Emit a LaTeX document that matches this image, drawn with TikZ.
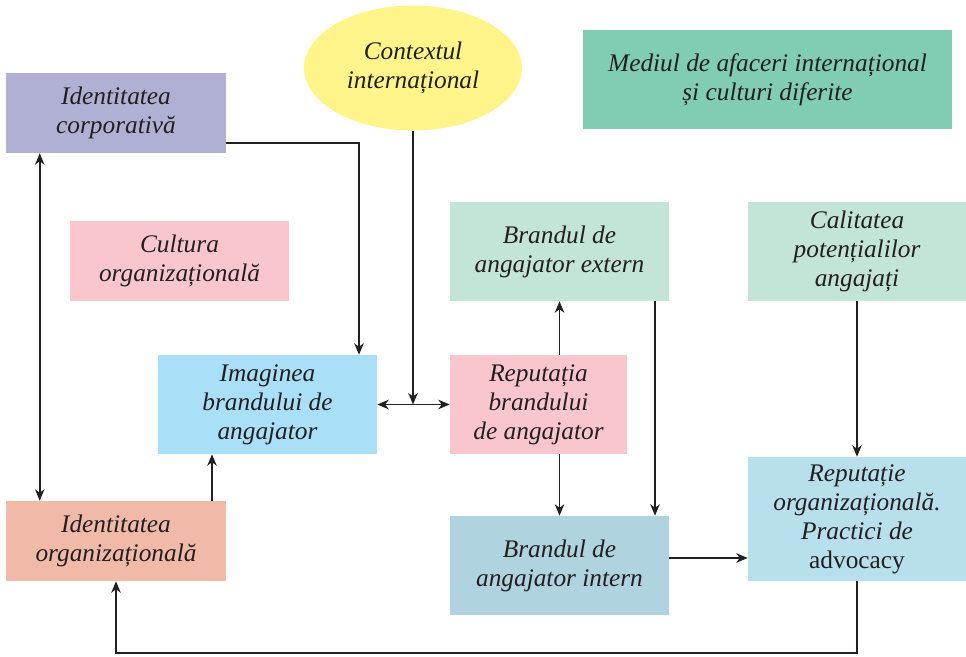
\documentclass[tikz,border=0pt]{standalone}
\usepackage{fontspec}
\setmainfont{Liberation Serif}
\usetikzlibrary{arrows.meta,shapes.geometric}

\definecolor{ink}{HTML}{231F20}
\definecolor{lavender}{HTML}{B0B0D4}
\definecolor{sun}{HTML}{FFF48A}
\definecolor{teal}{HTML}{80CDB4}
\definecolor{rose}{HTML}{F9C6CD}
\definecolor{mint}{HTML}{C2E5D8}
\definecolor{sky}{HTML}{A9DFF7}
\definecolor{salmon}{HTML}{F0B9A8}
\definecolor{steel}{HTML}{AFD3DF}
\definecolor{pale}{HTML}{B7DFEC}

\tikzset{
  box/.style={rectangle, inner sep=2pt, align=center, text=ink,
    font=\fontsize{19}{21.75}\selectfont\itshape},
  tip/.style={Stealth[length=8.5pt,width=7pt,inset=2.5pt]},
  link/.style={draw=ink, line width=1.4pt, -{Stealth[length=8.5pt,width=7pt,inset=2.5pt]}},
  link2/.style={draw=ink, line width=1.4pt,
    {Stealth[length=8.5pt,width=7pt,inset=2.5pt]}-{Stealth[length=8.5pt,width=7pt,inset=2.5pt]}},
}

\begin{document}
\begin{tikzpicture}[x=0.75pt,y=-0.75pt]
\useasboundingbox (0,0) rectangle (966,656);

% boxes
\node[box, fill=lavender, minimum width=165pt, minimum height=60pt]
  (ic) at (116,113) {Identitatea\\corporativă};
\node[ellipse, fill=sun, text=ink, align=center, inner sep=0pt,
  minimum width=163.5pt, minimum height=93.75pt,
  font=\fontsize{19}{21.75}\selectfont\itshape]
  (ctx) at (413,68) {Contextul\\internațional};
\node[box, fill=teal, minimum width=276.75pt, minimum height=74.25pt]
  (med) at (767.5,79.5) {Mediul de afaceri internațional\\și culturi diferite};
\node[box, fill=rose, minimum width=164.25pt, minimum height=60pt]
  (cult) at (179.5,261) {Cultura\\organizațională};
\node[box, fill=mint, minimum width=164.25pt, minimum height=74.25pt]
  (bext) at (559.5,251.5) {Brandul de\\angajator extern};
\node[box, fill=mint, minimum width=163.5pt, minimum height=74.25pt]
  (cal) at (857,251.5) {Calitatea\\potențialilor\\angajați};
\node[box, fill=sky, minimum width=164.25pt, minimum height=74.25pt]
  (img) at (267.5,404.5) {Imaginea\\brandului de\\angajator};
\node[box, fill=rose, minimum width=132.75pt, minimum height=74.25pt]
  (rep) at (538.5,404.5) {Reputația\\brandului\\de angajator};
\node[box, fill=salmon, minimum width=165pt, minimum height=60pt]
  (io) at (116,541) {Identitatea\\organizațională};
\node[box, fill=steel, minimum width=164.25pt, minimum height=74.25pt]
  (bint) at (559.5,565.5) {Brandul de\\angajator intern};
\node[box, fill=pale, minimum width=163.5pt, minimum height=93pt]
  (ro) at (857,519) {Reputație\\organizațională.\\Practici de\\{\upshape advocacy}};

% connectors
\draw[link] ([yshift=7.5pt]ic.south east) -| ([xshift=68.625pt]img.north);
\draw[link] (ctx.south) -- (ctx.south |- img.east);
\draw[link2] (img.east) -- (rep.west);
\draw[link2] ([xshift=25.5pt]ic.south west) -- ([xshift=25.5pt]io.north west);
\draw[link] ([xshift=-41.625pt]img.south |- io.north) -- ([xshift=-41.625pt]img.south);
\draw[link] (bext.south |- rep.north) -- (bext.south);
\draw[link] (bint.north |- rep.south) -- (bint.north);
\draw[link] ([xshift=71.625pt]bext.south) -- ([xshift=71.625pt]bint.north);
\draw[link] (cal.south) -- (ro.north);
\draw[link] ([yshift=5.625pt]bint.east) -- ([yshift=5.625pt]bint.east -| ro.west);
\draw[link] (ro.south) -- ++(0,72) -| (io.south);
\end{tikzpicture}
\end{document}
